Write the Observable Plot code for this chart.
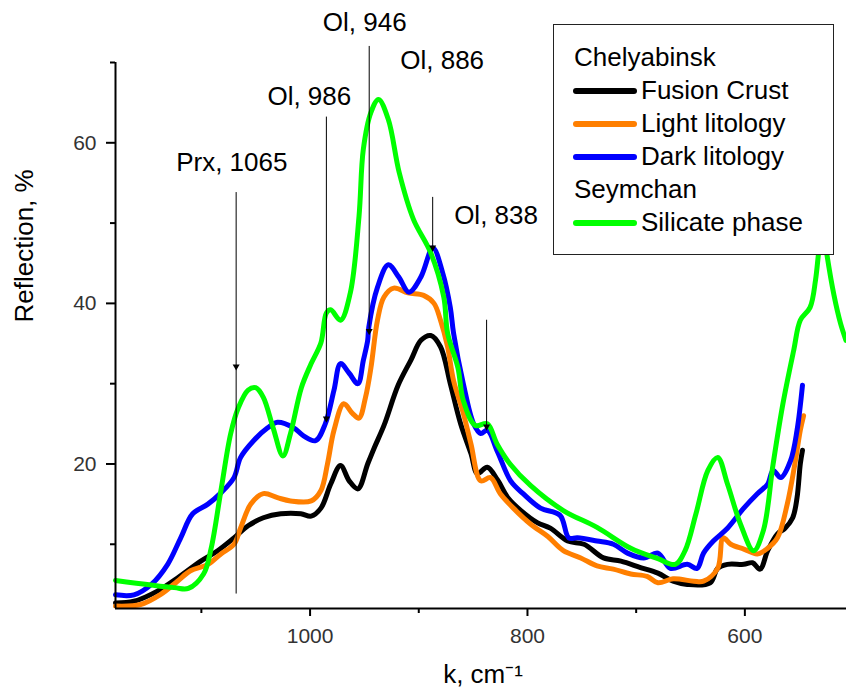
<!DOCTYPE html>
<html><head><meta charset="utf-8">
<script src="https://cdn.jsdelivr.net/npm/d3@7"></script>
<script src="https://cdn.jsdelivr.net/npm/@observablehq/plot@0.6"></script>
<style>
body{margin:0;background:#fff;font-family:"Liberation Sans",Arial,sans-serif;}
#wrap{position:relative;width:846px;height:694px;overflow:hidden;}
#legend{position:absolute;left:553px;top:24px;width:281px;height:231px;border:1.3px solid #222;background:#fff;box-sizing:border-box;padding-top:16px;}
#legend .row{position:relative;height:33px;line-height:33px;font-size:26px;color:#000;white-space:nowrap;}
#legend .hd{padding-left:20px;}
#legend .it{padding-left:87px;}
#legend .sw{position:absolute;left:19px;top:14px;width:64px;height:6px;border-radius:3px;}
</style></head>
<body><div id="wrap"><div id="chart"></div><div id="legend"></div></div>
<script>
// Wavenumber (cm^-1), reflection (%)
const fusionCrust = [[1179,2.7],[1162,2.9],[1140,4.2],[1122,5.8],[1100.5,7.9],[1085,9.2],[1070,10.8],[1057,12.3],[1043,13.3],[1027,13.8],[1008.5,13.8],[999,13.5],[990,14.5],[981,17.5],[972,19.8],[964,17.9],[956,16.9],[947,20.0],[941,22.0],[932,24.8],[919,29.8],[907,33.0],[898,35.4],[889,36.0],[880,34.6],[871,30.0],[861.5,25.0],[852,21.3],[846,18.8],[837,19.6],[827.5,18.0],[818,15.8],[806,14.2],[791,12.7],[779,12.0],[763,10.4],[748,10.0],[730,8.3],[714,7.9],[696,7.1],[680,6.4],[666,5.4],[653,5.0],[632,5.2],[625,7.0],[616,7.5],[601,7.5],[593,7.7],[586,6.9],[579,9.2],[570,11.3],[563,12.0],[556,13.3],[552,15.8],[549,20.0],[547,21.7]];
const lightLitology = [[1179,2.3],[1156,2.5],[1137,3.8],[1122,5.4],[1110,6.7],[1094,7.5],[1082,8.8],[1070,10.0],[1064,12.0],[1054.5,15.0],[1043,16.3],[1030,15.8],[1018,15.4],[999,15.4],[990,16.7],[984,20.0],[978,24.2],[969,27.5],[961,26.3],[955,25.7],[949,28.3],[944,32.0],[938,37.9],[932,40.8],[923,41.9],[910,41.3],[895.5,41.0],[886,40.0],[880,37.9],[873.5,34.6],[868,30.4],[859,26.3],[852,22.5],[843,17.9],[834,18.3],[825,16.3],[813,14.5],[797,12.5],[781.5,11.0],[767,9.2],[751,8.3],[736,7.3],[721,6.9],[705,6.3],[690,6.0],[680,5.2],[666,5.7],[647,5.4],[638,5.4],[625,7.0],[620,10.8],[613,10.0],[601,9.4],[588.5,8.8],[579,9.5],[570,10.8],[561,15.0],[554,20.0],[549,24.2],[546,26.0]];
const darkLitology = [[1179,3.7],[1162,3.7],[1146,5.0],[1131,7.5],[1119,10.8],[1108,13.8],[1094,15.0],[1082,16.4],[1070,18.3],[1064,20.8],[1052,22.9],[1039,24.5],[1030,25.2],[1015,24.5],[1006,23.5],[995,22.9],[986,25.0],[978,29.2],[972,32.5],[964,31.3],[956,30.0],[951,32.9],[947,35.4],[946,37.0],[938,42.0],[928,44.8],[918.5,43.3],[909,41.4],[898,43.3],[887,46.9],[878,43.8],[871,39.5],[868,36.3],[859,30.0],[849.5,25.0],[843,23.8],[837,24.2],[827.5,21.5],[815.5,17.9],[804,16.3],[788,14.5],[770,13.6],[762,10.8],[754,10.8],[736,10.4],[721,10.0],[708,8.9],[693,8.3],[680,8.9],[668.5,7.0],[653,7.5],[644,7.0],[638,8.9],[629,10.4],[616,12.0],[601,14.5],[588.5,16.3],[579,17.5],[574,19.2],[567,18.3],[558,20.4],[552,24.2],[547,29.8]];
const silicatePhase = [[1179,5.5],[1125,4.6],[1112,4.5],[1098,6.3],[1091,9.5],[1082,16.7],[1073,23.8],[1066,27.0],[1057,29.2],[1050,29.5],[1043,28.3],[1034,24.5],[1025,21.0],[1018,23.8],[1008,29.5],[999,32.5],[990,35.1],[985,38.8],[981,39.2],[972,37.9],[963,41.3],[955,50.8],[951,59.2],[944,63.8],[937,65.4],[928,62.9],[918,56.3],[905,50.5],[889,46.3],[877,40.8],[873.5,36.3],[864,32.0],[859,27.9],[848,24.8],[837,25.0],[828,22.5],[816,20.0],[797,17.3],[767,14.2],[736,12.1],[705,9.5],[680,8.2],[664,7.5],[655,9.2],[645,13.8],[634,19.2],[625,20.8],[616,17.5],[604,12.5],[592,9.2],[583,11.7],[574,20.0],[565,27.5],[555,34.2],[549,37.9],[540,39.5],[535,42.9],[532,46.5],[528.5,50.0],[525,46.5],[518,41.0],[512,37.5],[507,35.4]];

const seriesNames = ["Fusion Crust","Light litology","Dark litology","Silicate phase"];
const seriesColors = ["#000000","#ff7f00","#0000ff","#00ff00"];
const seriesData = [fusionCrust, lightLitology, darkLitology, silicatePhase];
const legendGroups = [["Chelyabinsk",[0,1,2]],["Seymchan",[3]]];

// Band annotations
const bandLabels = ["Prx, 1065","Ol, 986","Ol, 946","Ol, 886","Ol, 838"];
const bandX = [1068, 985, 945.6, 887.2, 837.6];
const bandTop = [53.8, 63.2, 72.0, 53.2, 37.9];
const bandTip = [31.9, 25.4, 36.3, 46.7, 24.4];
const bandBottom = [3.8, null, null, null, null];
const bandLabelX = [1072, 1000.7, 949.7, 878.5, 828.9];
const bandLabelY = [57.5, 65.7, 75.0, 70.2, 50.9];

const xMajor = [1000, 800, 600];
const xMinor = [1100, 900, 700];
const yMajor = [20, 40, 60];
const yMinor = [10, 30, 50, 70];
const xDomain = [1179, 506.5];
const yDomain = [2, 70];

const rows = seriesData.flatMap((d, s) => d.map(([k, r]) => ({k, r, s: seriesNames[s]})));
const idx = bandLabels.map((_, i) => i);

const chart = Plot.plot({
  width: 846, height: 694,
  marginLeft: 115, marginRight: 0, marginTop: 62, marginBottom: 86,
  x: {domain: xDomain, axis: null},
  y: {domain: yDomain, axis: null},
  style: {fontFamily: "'Liberation Sans', Arial, sans-serif", background: "white", overflow: "visible"},
  marks: [
    ...seriesNames.map((n, s) => Plot.line(rows.filter(d => d.s === n), {x: "k", y: "r", stroke: seriesColors[s], strokeWidth: 5, curve: "catmull-rom"})),
    Plot.ruleX(idx, {x: i => bandX[i], y1: i => bandTop[i], y2: i => bandTip[i], stroke: "black", strokeWidth: 1}),
    Plot.dot(idx, {x: i => bandX[i], y: i => bandTip[i], symbol: "triangle", rotate: 180, r: 2.6, dy: -2, fill: "black", stroke: "none"}),
    Plot.ruleX(idx.filter(i => bandBottom[i] != null), {x: i => bandX[i], y1: i => bandTip[i], y2: i => bandBottom[i], stroke: "black", strokeWidth: 1}),
    Plot.text(idx, {x: i => bandLabelX[i], y: i => bandLabelY[i], text: i => bandLabels[i], fontSize: 26, fill: "black"}),
    Plot.axisX(xMajor, {anchor: "bottom", tickSize: 8, tickPadding: 12, fontSize: 21, fill: "#333", stroke: "black", strokeWidth: 2, label: null, tickFormat: d => String(d)}),
    Plot.axisX(xMinor, {anchor: "bottom", tickSize: 5, tickFormat: () => "", stroke: "black", strokeWidth: 2, label: null}),
    Plot.axisY(yMajor, {anchor: "left", tickSize: 9, tickPadding: 10, fontSize: 21, fill: "#333", stroke: "black", strokeWidth: 2, label: null, tickFormat: d => String(d)}),
    Plot.axisY(yMinor, {anchor: "left", tickSize: 5, tickFormat: () => "", stroke: "black", strokeWidth: 2, label: null}),
    Plot.ruleY([yDomain[0]], {stroke: "black", strokeWidth: 2}),
    Plot.ruleX([xDomain[0]], {stroke: "black", strokeWidth: 2}),
    Plot.text(["Reflection, %"], {frameAnchor: "left", text: d => d, rotate: -90, dx: -91, dy: -13, fontSize: 26, fill: "black"}),
    Plot.text(["k, cm\u207B\u00B9"], {frameAnchor: "bottom", text: d => d, dx: 2, dy: 74, fontSize: 26, fill: "black"})
  ]
});
document.getElementById("chart").appendChild(chart);

const leg = document.getElementById("legend");
for (const [group, members] of legendGroups) {
  const h = document.createElement("div");
  h.className = "row hd"; h.textContent = group; leg.appendChild(h);
  for (const s of members) {
    const r = document.createElement("div");
    r.className = "row it";
    const sw = document.createElement("span");
    sw.className = "sw"; sw.style.background = seriesColors[s];
    r.appendChild(sw);
    r.appendChild(document.createTextNode(seriesNames[s]));
    leg.appendChild(r);
  }
}
</script></body></html>
